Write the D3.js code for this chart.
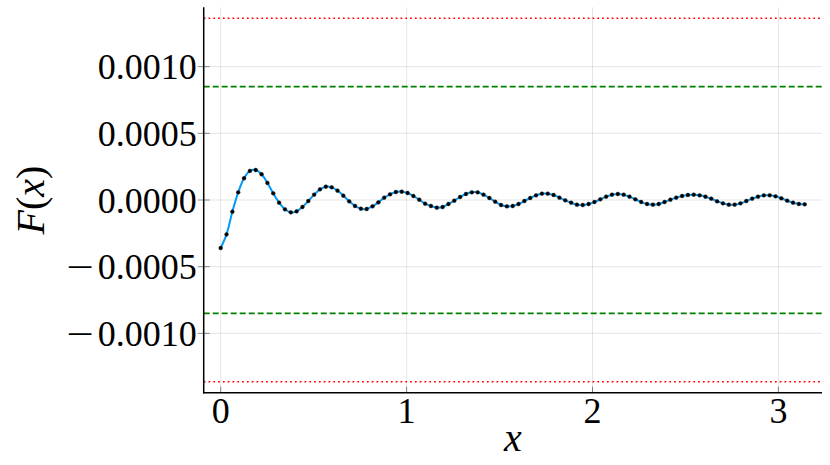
<!DOCTYPE html>
<html>
<head>
<meta charset="utf-8">
<script src="https://cdn.jsdelivr.net/npm/d3@7"></script>
<style>
  html, body { margin: 0; padding: 0; background: #fff; }
  svg { display: block; }
  text { font-family: "Liberation Serif", "DejaVu Serif", serif; fill: #000; }
</style>
</head>
<body>
<svg id="chart" width="830" height="465"></svg>
<script>
// ---- data ----
const nPoints = 101;
const xStep = Math.PI / 100;        // sample spacing on x (0 .. π)
const fValues = [
  -3.60e-4, -2.58e-4, -8.75e-5, 5.75e-5, 1.63e-4, 2.18e-4, 2.25e-4, 1.93e-4, 1.28e-4, 5.0e-5,
  -2.0e-5, -7.0e-5, -9.25e-5, -8.5e-5, -5.25e-5, -7.5e-6, 4.0e-5, 8.0e-5, 1.0e-4, 9.5e-5,
  7.0e-5, 3.25e-5, -1.0e-5, -4.5e-5, -6.5e-5, -6.75e-5, -4.75e-5, -1.75e-5, 1.75e-5, 4.25e-5,
  6.0e-5, 6.25e-5, 5.25e-5, 3.0e-5, 2.5e-6, -2.75e-5, -4.5e-5, -5.75e-5, -5.25e-5, -3.0e-5,
  -5.0e-6, 2.25e-5, 4.5e-5, 5.75e-5, 5.75e-5, 4.0e-5, 1.5e-5, -1.25e-5, -3.75e-5, -4.75e-5,
  -4.5e-5, -3.0e-5, -7.5e-6, 1.5e-5, 3.5e-5, 4.75e-5, 4.75e-5, 3.75e-5, 1.75e-5, -2.5e-6,
  -2.0e-5, -3.5e-5, -3.75e-5, -3.0e-5, -1.5e-5, 5.0e-6, 2.5e-5, 4.0e-5, 4.5e-5, 4.0e-5,
  2.5e-5, 5.0e-6, -1.5e-5, -3.0e-5, -3.5e-5, -3.0e-5, -1.5e-5, 2.5e-6, 1.75e-5, 3.0e-5,
  3.75e-5, 4.0e-5, 3.5e-5, 2.5e-5, 1.0e-5, -1.0e-5, -2.5e-5, -3.5e-5, -3.5e-5, -2.5e-5,
  -7.5e-6, 1.0e-5, 2.5e-5, 3.5e-5, 3.5e-5, 2.75e-5, 1.25e-5, -5.0e-6, -2.0e-5, -3.0e-5,
  -3.25e-5
];
const xValues = d3.range(nPoints).map(i => i * xStep);

const xTicks = [0, 1, 2, 3];
const xTickLabels = ["0", "1", "2", "3"];
const yTicks = [-0.0010, -0.0005, 0.0, 0.0005, 0.0010];
const yTickLabels = ["\u22120.0010", "\u22120.0005", "0.0000", "0.0005", "0.0010"];

const greenBounds = [0.00085, -0.00085];   // dashed
const redBounds = [0.001363, -0.001363];   // dotted

const xDomain = [-0.0914, 3.2345];
const yDomain = [-0.001445, 0.001445];

// ---- layout ----
const svg = d3.select("#chart");
const plot = { left: 203.7, right: 822, top: 7.3, bottom: 392.7 };

const x = d3.scaleLinear().domain(xDomain).range([plot.left, plot.right]);
const y = d3.scaleLinear().domain(yDomain).range([plot.bottom, plot.top]);

// grid
const grid = svg.append("g");
grid.selectAll("line.gx").data(xTicks).join("line")
  .attr("x1", d => x(d)).attr("x2", d => x(d))
  .attr("y1", plot.top).attr("y2", plot.bottom)
  .attr("stroke", "#000").attr("stroke-opacity", 0.1).attr("stroke-width", 1);
grid.selectAll("line.gy").data(yTicks).join("line")
  .attr("x1", plot.left).attr("x2", plot.right)
  .attr("y1", d => y(d)).attr("y2", d => y(d))
  .attr("stroke", "#000").attr("stroke-opacity", 0.1).attr("stroke-width", 1);

// bound lines
svg.append("g").selectAll("line").data(redBounds).join("line")
  .attr("x1", plot.left).attr("x2", plot.right)
  .attr("y1", d => y(d)).attr("y2", d => y(d))
  .attr("stroke", "#ff0000").attr("stroke-width", 1.6)
  .attr("stroke-dasharray", "1.8,3");
svg.append("g").selectAll("line").data(greenBounds).join("line")
  .attr("x1", plot.left).attr("x2", plot.right)
  .attr("y1", d => y(d)).attr("y2", d => y(d))
  .attr("stroke", "#008000").attr("stroke-width", 1.6)
  .attr("stroke-dasharray", "6,3");

// series line
const pts = xValues.map((xv, i) => [xv, fValues[i]]);
const line = d3.line().x(d => x(d[0])).y(d => y(d[1])).curve(d3.curveCatmullRom);
svg.append("path").datum(pts)
  .attr("d", line).attr("fill", "none")
  .attr("stroke", "#009af9").attr("stroke-width", 2);

// markers
svg.append("g").selectAll("circle").data(pts).join("circle")
  .attr("cx", d => x(d[0])).attr("cy", d => y(d[1])).attr("r", 1.9)
  .attr("fill", "#000").attr("stroke", "#222").attr("stroke-width", 0.5);

// axes lines
svg.append("line")
  .attr("x1", plot.left).attr("x2", plot.left)
  .attr("y1", plot.top).attr("y2", plot.bottom + 0.75)
  .attr("stroke", "#000").attr("stroke-width", 1.5);
svg.append("line")
  .attr("x1", plot.left - 0.75).attr("x2", plot.right)
  .attr("y1", plot.bottom).attr("y2", plot.bottom)
  .attr("stroke", "#000").attr("stroke-width", 1.5);

// ticks
svg.append("g").selectAll("line").data(yTicks).join("line")
  .attr("x1", plot.left - 6).attr("x2", plot.left + 6)
  .attr("y1", d => y(d)).attr("y2", d => y(d))
  .attr("stroke", "#000").attr("stroke-opacity", 0.45).attr("stroke-width", 1);
svg.append("g").selectAll("line").data(xTicks).join("line")
  .attr("x1", d => x(d)).attr("x2", d => x(d))
  .attr("y1", plot.bottom - 6).attr("y2", plot.bottom)
  .attr("stroke", "#000").attr("stroke-opacity", 0.45).attr("stroke-width", 1);

// y tick labels: digits right-aligned; a wider (TeX-like) minus drawn in front
const yLabG = svg.append("g");
yTicks.forEach((d, i) => {
  const s = yTickLabels[i];
  const neg = s.startsWith("\u2212");
  const body = neg ? s.slice(1) : s;
  const ty = y(d) + 12.5;
  const t = yLabG.append("text")
    .attr("x", plot.left - 7).attr("y", ty)
    .attr("text-anchor", "end").attr("font-size", 36)
    .text(body);
  if (neg) {
    const w = t.node().getComputedTextLength();
    const right = plot.left - 7 - w - 4;
    yLabG.append("text")
      .attr("transform", `translate(${right},${ty}) scale(1.35,1)`)
      .attr("text-anchor", "end").attr("font-size", 36)
      .text("\u2212");
  }
});

svg.append("g").selectAll("text").data(xTicks).join("text")
  .attr("x", d => x(d)).attr("y", 423)
  .attr("text-anchor", "middle").attr("font-size", 36)
  .text((d, i) => xTickLabels[i]);

// axis titles
svg.append("text")
  .attr("x", (plot.left + plot.right) / 2).attr("y", 451)
  .attr("text-anchor", "middle").attr("font-size", 40).attr("font-style", "italic")
  .text("x");
const yl = svg.append("text")
  .attr("transform", `translate(44,${(plot.top + plot.bottom) / 2}) rotate(-90)`)
  .attr("text-anchor", "middle").attr("font-size", 40);
yl.append("tspan").attr("font-style", "italic").text("F");
yl.append("tspan").text("(");
yl.append("tspan").attr("font-style", "italic").text("x");
yl.append("tspan").text(")");
</script>
</body>
</html>
